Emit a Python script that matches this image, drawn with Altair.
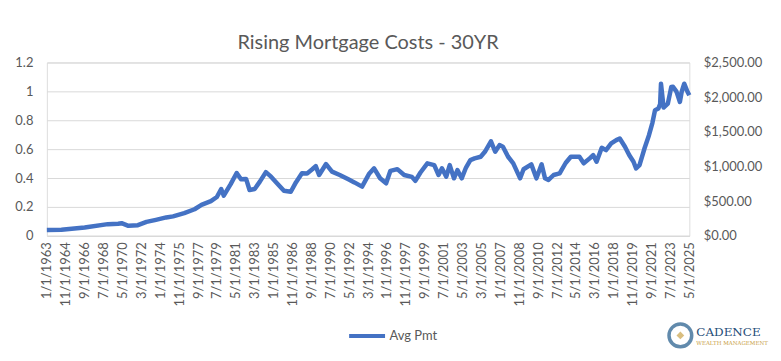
import altair as alt
import pandas as pd

# Monthly average payment readings (date, $)
dates = [
    "1963-01-01", "1964-06-01", "1966-09-01", "1968-12-01", "1969-12-01", "1970-04-01",
    "1970-12-01", "1971-11-01", "1972-09-01", "1973-08-01", "1974-08-01", "1975-04-01",
    "1976-05-01", "1977-05-01", "1978-01-01", "1978-12-01", "1979-07-01", "1979-12-01",
    "1980-03-01", "1980-11-01", "1981-06-01", "1981-11-01", "1982-05-01", "1982-09-01",
    "1983-03-01", "1983-09-01", "1984-04-01", "1984-10-01", "1985-06-01", "1986-01-01",
    "1986-09-01", "1987-03-01", "1987-10-01", "1988-04-01", "1988-10-01", "1989-02-01",
    "1989-06-01", "1990-02-01", "1990-09-01", "1991-06-01", "1992-04-01", "1992-11-01",
    "1993-08-01", "1994-04-01", "1994-10-01", "1995-05-01", "1995-12-01", "1996-05-01",
    "1997-01-01", "1997-09-01", "1998-06-01", "1998-10-01", "1999-04-01", "1999-12-01",
    "2000-08-01", "2001-01-01", "2001-05-01", "2001-10-01", "2002-02-01", "2002-07-01",
    "2002-11-01", "2003-04-01", "2003-09-01", "2004-02-01", "2004-07-01", "2005-02-01",
    "2005-07-01", "2006-02-01", "2006-07-01", "2006-12-01", "2007-04-01", "2007-10-01",
    "2008-04-01", "2008-12-01", "2009-04-01", "2010-01-01", "2010-07-01", "2011-01-01",
    "2011-05-01", "2011-09-01", "2012-03-01", "2012-10-01", "2013-05-01", "2013-11-01",
    "2014-09-01", "2015-02-01", "2015-09-01", "2016-01-01", "2016-05-01", "2016-11-01",
    "2017-04-01", "2017-10-01", "2018-04-01", "2018-08-01", "2019-02-01", "2019-07-01",
    "2019-12-01", "2020-03-01", "2020-07-01", "2021-01-01", "2021-06-01", "2021-10-01",
    "2022-01-01", "2022-05-01", "2022-07-01", "2022-08-01", "2022-11-01", "2023-04-01",
    "2023-08-01", "2023-10-01", "2024-02-01", "2024-06-01", "2024-08-01", "2024-11-01",
    "2025-03-01", "2025-05-01",
]
avg_pmt = [
    82, 86, 120, 168, 175, 182,
    144, 153, 200, 230, 265, 280,
    326, 383, 445, 500, 560, 675,
    580, 745, 905, 815, 820, 661,
    675, 781, 918, 853, 745, 650,
    635, 770, 901, 900, 960, 1005,
    877, 1035, 925, 877, 815, 770,
    709, 890, 973, 830, 757, 937,
    961, 877, 850, 793, 913, 1045,
    1020, 877, 973, 853, 1020, 829,
    949, 829, 985, 1092, 1117, 1140,
    1212, 1363, 1212, 1308, 1284, 1140,
    1045, 829, 960, 1030, 829, 1032,
    829, 805, 877, 900, 1050, 1140,
    1140, 1045, 1117, 1164, 1068, 1270,
    1236, 1332, 1380, 1404, 1284, 1164,
    1068, 973, 1020, 1270, 1451, 1630,
    1811, 1835, 1900, 2194, 1850, 1907,
    2146, 2150, 2080, 1930, 2074, 2194,
    2074, 2026,
]
series_name = ["Avg Pmt"]

# x-axis tick labels (every 22 months)
tick_years = [1963, 1964, 1966, 1968, 1970, 1972, 1974, 1975, 1977, 1979, 1981, 1983,
              1985, 1986, 1988, 1990, 1992, 1994, 1996, 1997, 1999, 2001, 2003, 2005,
              2007, 2008, 2010, 2012, 2014, 2016, 2018, 2019, 2021, 2023, 2025]
tick_months = [1, 11, 9, 7, 5, 3, 1, 11, 9, 7, 5, 3,
               1, 11, 9, 7, 5, 3, 1, 11, 9, 7, 5, 3,
               1, 11, 9, 7, 5, 3, 1, 11, 9, 7, 5]
left_ticks = [0, 0.2, 0.4, 0.6, 0.8, 1.0, 1.2]
right_ticks = [0, 500, 1000, 1500, 2000, 2500]

df = pd.DataFrame({"date": dates, "pmt": avg_pmt, "series": series_name * len(dates)})
left_df = pd.DataFrame({"v": [0, 1.2]})

FONT = "Lato"
GREY = "#595959"
BLUE = "#4472C4"

tick_vals = [alt.DateTime(year=y, month=m, date=1, utc=True) for y, m in zip(tick_years, tick_months)]

x_enc = alt.X(
    "date:T",
    scale=alt.Scale(type="utc", nice=False,
                    domain=[alt.DateTime(year=1963, month=1, date=1, utc=True),
                            alt.DateTime(year=2025, month=5, date=1, utc=True)]),
    axis=alt.Axis(values=tick_vals, labelExpr="utcFormat(datum.value, '%-m/%-d/%Y')",
                  labelAngle=-90, labelFontSize=13, labelColor=GREY, labelFont=FONT,
                  ticks=False, grid=False, domainColor="#d9d9d9", labelPadding=6,
                  title=None, labelOverlap=False),
)

left_layer = alt.Chart(left_df).mark_rule(opacity=0).encode(
    y=alt.Y("v:Q", scale=alt.Scale(domain=[0, 1.2], nice=False),
            axis=alt.Axis(values=left_ticks, format="~g", orient="left", title=None,
                          grid=True, gridColor="#d9d9d9", domain=False, ticks=False,
                          labelFontSize=13, labelColor=GREY, labelFont=FONT,
                          labelPadding=14)),
)

line_layer = alt.Chart(df).mark_line(strokeWidth=4.5, strokeJoin="round").encode(
    x=x_enc,
    y=alt.Y("pmt:Q", scale=alt.Scale(domain=[0, 2500], nice=False),
            axis=alt.Axis(values=right_ticks, format="$,.2f", orient="right", title=None,
                          grid=False, domain=False, ticks=False,
                          labelFontSize=13, labelColor=GREY, labelFont=FONT,
                          labelPadding=14)),
    color=alt.Color("series:N", scale=alt.Scale(range=[BLUE]),
                    legend=alt.Legend(orient="none", legendX=301, legendY=254, title=None,
                                      symbolType="stroke", symbolStrokeWidth=4,
                                      symbolSize=1300, labelFontSize=13, labelColor=GREY,
                                      labelFont=FONT, labelOffset=2)),
)

logo_df = pd.DataFrame({"a": [1]})
logo_circle = alt.Chart(logo_df).mark_point(shape="circle", size=520, strokeWidth=3.5,
                                            color="#1f5a8a", filled=False).encode(
    x=alt.value(636), y=alt.value(274))
logo_star = alt.Chart(logo_df).mark_point(shape="diamond", size=60, filled=True,
                                          color="#c9a24a").encode(
    x=alt.value(636), y=alt.value(274))
logo_text = alt.Chart(logo_df).mark_text(text="CADENCE", font="DejaVu Serif", fontSize=12,
                                         color="#1f4e79", align="left", baseline="middle").encode(
    x=alt.value(652), y=alt.value(271))
logo_sub = alt.Chart(logo_df).mark_text(text="WEALTH MANAGEMENT", font="DejaVu Serif", fontSize=5.5,
                                        color="#c9a24a", align="left", baseline="middle").encode(
    x=alt.value(652), y=alt.value(281.5))

chart = alt.layer(left_layer, line_layer, logo_circle, logo_star, logo_text, logo_sub).resolve_scale(
    y="independent"
).properties(
    width=645, height=174,
    padding={"left": 6, "top": 24, "right": 5, "bottom": 2},
    title=alt.TitleParams("Rising Mortgage Costs - 30YR", fontSize=20, font=FONT,
                          color=GREY, fontWeight="normal", offset=4, anchor="middle"),
).configure_view(stroke=None).configure(background="white")

chart.save("out.html", embed_options={"renderer": "svg", "actions": False})
